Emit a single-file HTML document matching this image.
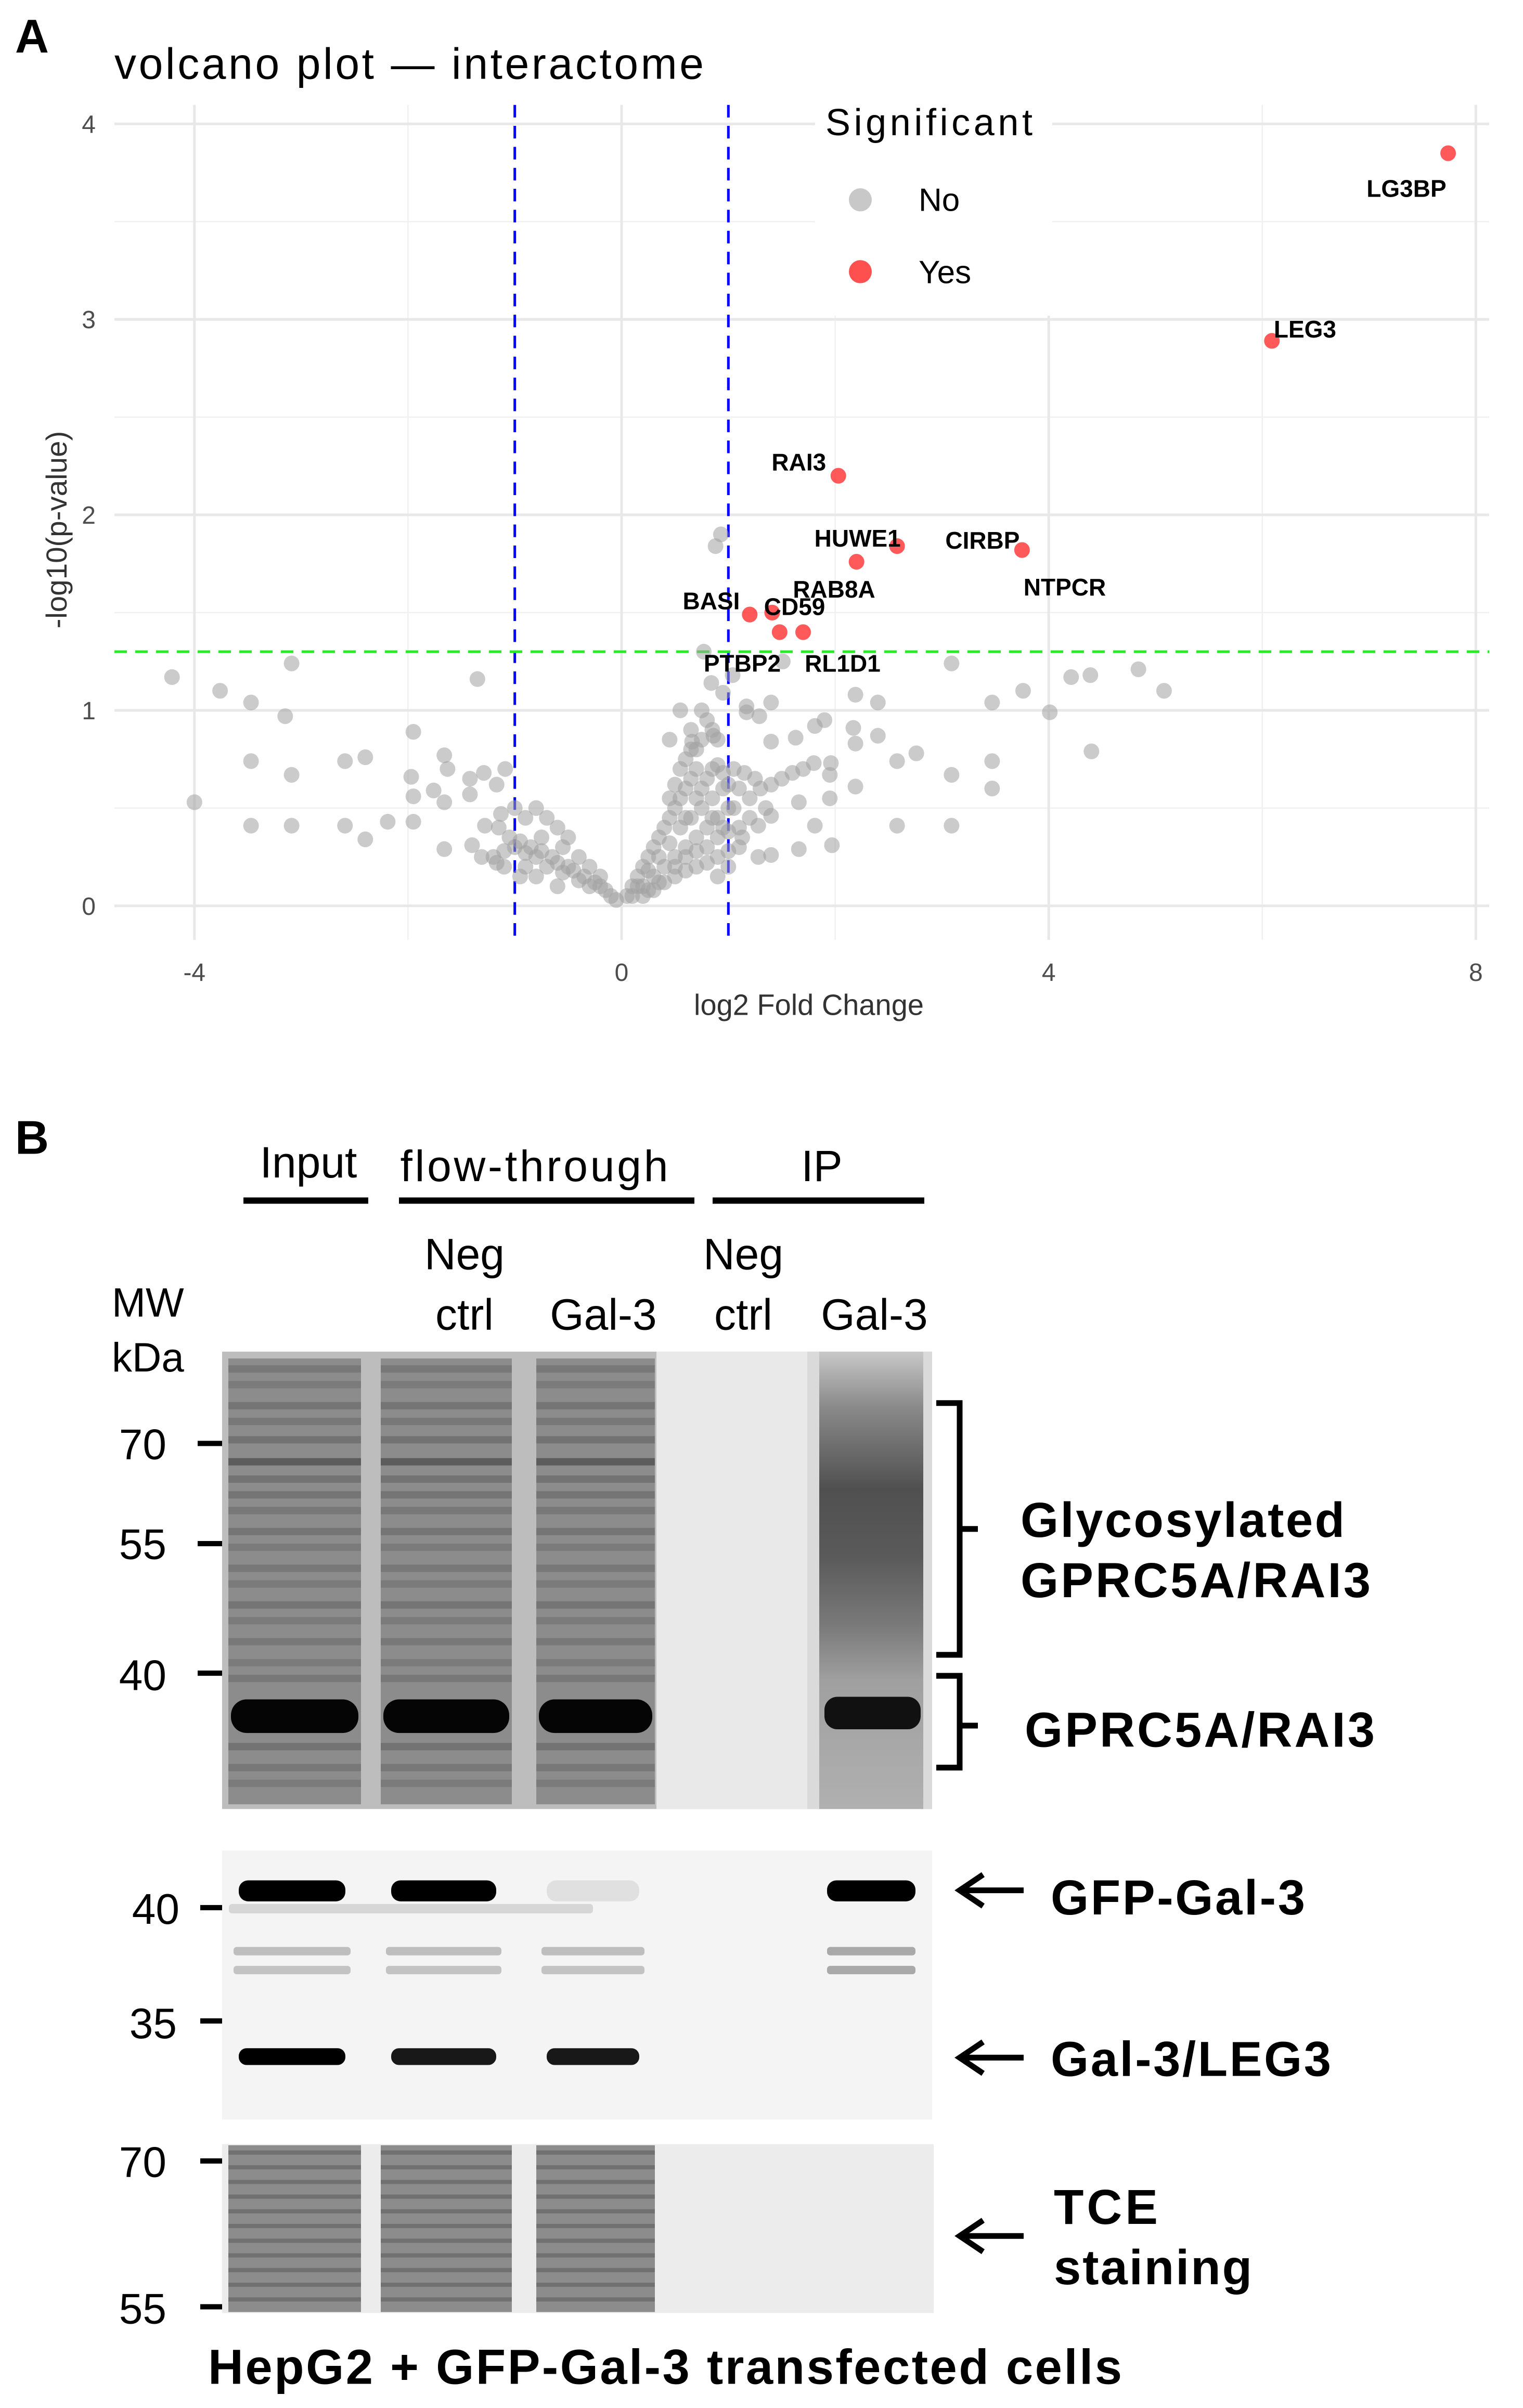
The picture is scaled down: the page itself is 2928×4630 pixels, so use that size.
<!DOCTYPE html>
<html><head><meta charset="utf-8">
<style>
html,body{margin:0;padding:0;background:#fff;}
svg{display:block;}
text{font-family:"Liberation Sans",sans-serif;}
</style></head>
<body>
<svg id="fig" width="2928" height="4630" viewBox="0 0 2928 4630" xmlns="http://www.w3.org/2000/svg">
<defs>
<linearGradient id="smear" x1="0" y1="0" x2="0" y2="1">
<stop offset="0" stop-color="#c8c8c8"/>
<stop offset="0.12" stop-color="#8a8a8a"/>
<stop offset="0.3" stop-color="#505050"/>
<stop offset="0.45" stop-color="#5a5a5a"/>
<stop offset="0.6" stop-color="#7a7a7a"/>
<stop offset="0.72" stop-color="#a0a0a0"/>
<stop offset="1" stop-color="#b0b0b0"/>
</linearGradient>
</defs>
<g transform="scale(1,1.0085)">
<g id="panelA">
<text x="29" y="100" font-size="90" font-weight="bold">A</text>
<text x="220" y="150" font-size="84" textLength="1133" fill="#000">volcano plot — interactome</text>
<g id="grid"></g>
<rect x="1567" y="190" width="456" height="412" fill="#fff"/>
<g id="refs"></g>
<g id="pts"></g>
<g id="lbls"></g>
<g id="ticks"></g>
<text x="1555" y="1935" font-size="56" fill="#333" text-anchor="middle">log2 Fold Change</text>
<text transform="translate(128,1010) rotate(-90)" font-size="56" fill="#333" text-anchor="middle">-log10(p-value)</text>
<g>
<text x="1587" y="258" font-size="72" textLength="398">Significant</text>
<circle cx="1654" cy="381" r="22" fill="#c8c8c8"/>
<text x="1766" y="402" font-size="62">No</text>
<circle cx="1654" cy="518" r="22" fill="#ff5050"/>
<text x="1766" y="540" font-size="62">Yes</text>
</g>
</g>

<g id="panelB">
<text x="29" y="2200" font-size="90" font-weight="bold">B</text>
<text x="593" y="2245" font-size="84" text-anchor="middle">Input</text>
<text x="1027" y="2252" font-size="84" textLength="515" text-anchor="middle">flow-through</text>
<text x="1580" y="2252" font-size="84" text-anchor="middle">IP</text>
<rect x="468" y="2283" width="240" height="12" fill="#000"/>
<rect x="767" y="2283" width="568" height="12" fill="#000"/>
<rect x="1370" y="2283" width="407" height="12" fill="#000"/>
<g font-size="84" text-anchor="middle">
<text x="893" y="2420">Neg</text>
<text x="893" y="2535">ctrl</text>
<text x="1160" y="2535">Gal-3</text>
<text x="1429" y="2420">Neg</text>
<text x="1429" y="2535">ctrl</text>
<text x="1681" y="2535">Gal-3</text>
</g>
<text x="215" y="2510" font-size="78">MW</text>
<text x="215" y="2615" font-size="78">kDa</text>

<g>
<rect x="427" y="2577" width="1365" height="872" fill="#bdbdbd"/>
<rect x="1262" y="2577" width="290" height="872" fill="#e9e9e9"/>
<rect x="1552" y="2577" width="240" height="872" fill="#dadada"/>
<rect x="1575" y="2577" width="200" height="872" fill="url(#smear)"/>
<g id="b1lanes"></g>
<rect x="1585" y="3235" width="185" height="62" rx="25" fill="#111"/>
</g>
<g>
<rect x="427" y="3528" width="1365" height="513" fill="#f4f4f4"/>
<g id="b2lanes"></g>
</g>
<g>
<rect x="427" y="4088" width="1368" height="322" fill="#ececec"/>
<g id="b3lanes"></g>
</g>

<g font-size="82" text-anchor="end">
<text x="320" y="2782">70</text><rect x="380" y="2747" width="47" height="10"/>
<text x="320" y="2972">55</text><rect x="380" y="2938" width="47" height="10"/>
<text x="320" y="3222">40</text><rect x="380" y="3185" width="47" height="10"/>
<text x="345" y="3668">40</text><rect x="385" y="3632" width="42" height="10"/>
<text x="340" y="3886">35</text><rect x="385" y="3848" width="42" height="10"/>
<text x="320" y="4150">70</text><rect x="385" y="4115" width="42" height="10"/>
<text x="320" y="4430">55</text><rect x="385" y="4393" width="42" height="10"/>
</g>

<path d="M1800 2675 H1845 V3155 H1800 M1845 2915 H1880" fill="none" stroke="#000" stroke-width="11"/>
<path d="M1800 3195 H1845 V3370 H1800 M1845 3290 H1880" fill="none" stroke="#000" stroke-width="11"/>
<g font-size="94" font-weight="bold">
<text x="1962" y="2930" textLength="623">Glycosylated</text>
<text x="1962" y="3045" textLength="673">GPRC5A/RAI3</text>
<text x="1970" y="3330" textLength="673">GPRC5A/RAI3</text>
<text x="2020" y="3650" textLength="489">GFP-Gal-3</text>
<text x="2020" y="3958" textLength="539">Gal-3/LEG3</text>
<text x="2026" y="4240" textLength="200">TCE</text>
<text x="2026" y="4355" textLength="381">staining</text>
<text x="400" y="4545" textLength="1757">HepG2 + GFP-Gal-3 transfected cells</text>
</g>
<g fill="none" stroke="#000" stroke-width="11">
<path d="M1845 3604 H1968 M1890 3574 L1845 3604 L1890 3634"/>
<path d="M1845 3923 H1968 M1890 3893 L1845 3923 L1890 3953"/>
<path d="M1845 4263 H1968 M1890 4233 L1845 4263 L1890 4293"/>
</g>
</g>
</g>
</svg>
<script>
const NS="http://www.w3.org/2000/svg";
// ---- chart data ----
const xTicks=[-4,0,4,8];
const xMinor=[-2,2,6];
const yTicks=[0,1,2,3,4];
const yMinor=[0.5,1.5,2.5,3.5];
const sigNames=["LG3BP","LEG3","RAI3","HUWE1","RAB8A","NTPCR","BASI","CD59","PTBP2","RL1D1"];
const sigFC=[7.74,6.09,2.03,2.58,2.2,3.75,1.2,1.41,1.48,1.7];
const sigP=[3.85,2.89,2.2,1.84,1.76,1.82,1.49,1.5,1.4,1.4];
const labelNames=["LG3BP","LEG3","RAI3","HUWE1","RAB8A","CIRBP","NTPCR","BASI","CD59","PTBP2","RL1D1"];
const labelFC=[7.35,6.4,1.66,2.21,1.99,3.38,4.15,0.84,1.62,1.13,2.07];
const labelP=[3.67,2.95,2.27,1.88,1.62,1.87,1.63,1.56,1.53,1.24,1.24];
const nsFC=[-4.21,-3.76,-3.47,-3.15,-3.09,-4.0,-3.47,-3.09,-3.47,-3.09,-2.59,-2.4,-2.59,-2.4,-2.19,-1.95,-1.97,-1.95,-1.95,-1.76,-1.66,-1.63,-1.66,-1.66,-1.42,-1.42,-1.35,-1.29,-1.17,-1.09,-1.28,-1.4,-1.13,-1.31,-1.17,
0.88,0.93,0.77,0.84,1.04,1.51,3.09,2.19,2.4,3.47,3.76,4.01,4.21,4.39,4.84,5.08,4.4,2.17,2.4,2.19,2.58,2.76,3.09,3.47,3.47,3.09,2.58,2.19,1.95,1.95,1.96,1.81,1.97,1.66,1.66,1.4,1.28,1.4,1.28,1.13,1.9,1.81,1.63,1.4,1.29,1.4,1.17,1.17,0.95,0.75,0.55,0.86,0.66,0.45,
-0.05,-0.1,-0.15,-0.2,-0.25,-0.3,-0.35,-0.4,-0.45,-0.5,-0.55,-0.6,-0.65,-0.7,-0.75,-0.8,-0.85,-0.9,-0.95,-1.0,-1.05,-1.1,-1.15,-0.5,-0.6,-0.7,-0.8,-0.9,-1.0,-0.3,-0.4,-0.2,-0.8,-0.6,-0.9,-1.1,-1.2,-0.95,-0.75,-0.55,
0.05,0.1,0.15,0.2,0.25,0.3,0.35,0.4,0.45,0.5,0.55,0.6,0.65,0.7,0.1,0.2,0.3,0.4,0.5,0.6,0.7,0.8,0.9,1.0,0.15,0.25,0.35,0.45,0.55,0.65,0.75,0.85,0.95,0.3,0.4,0.5,0.6,0.7,0.8,0.9,1.0,0.55,0.6,0.65,0.5,0.75,0.8,0.85,0.9,0.95,1.0,1.05,1.1,1.2,1.3,1.4,1.5,1.6,1.7,1.8,1.2,1.35,1.1,1.0,0.9,0.8,0.7,0.6,0.5,0.45,0.7,0.75,0.85,0.9,0.65,0.8,0.7,0.6,0.85,0.95,1.1,1.0,0.9,1.05,1.15,1.25,0.2,0.35,0.25];
const nsP=[1.17,1.1,1.04,0.97,1.24,0.53,0.74,0.67,0.41,0.41,0.74,0.76,0.41,0.34,0.43,0.89,0.66,0.56,0.43,0.59,0.77,0.7,0.53,0.29,0.65,0.57,1.16,0.68,0.62,0.7,0.41,0.31,0.47,0.25,0.22,
1.84,1.9,1.3,1.14,1.18,1.25,1.24,1.08,1.04,1.04,1.1,0.99,1.17,1.18,1.21,1.1,0.79,0.91,0.87,0.83,0.74,0.78,0.67,0.74,0.6,0.41,0.41,0.61,0.55,0.67,0.73,0.41,0.31,0.29,0.53,0.46,0.41,0.26,0.25,0.35,0.95,0.92,0.86,0.84,0.97,1.04,1.02,0.99,1.09,1.0,1.0,0.87,0.84,0.85,
0.03,0.05,0.08,0.1,0.12,0.1,0.15,0.13,0.18,0.2,0.17,0.22,0.25,0.2,0.28,0.25,0.3,0.27,0.33,0.3,0.35,0.28,0.4,0.35,0.4,0.45,0.5,0.45,0.5,0.2,0.25,0.15,0.15,0.1,0.2,0.2,0.25,0.15,0.35,0.3,
0.05,0.1,0.15,0.2,0.25,0.3,0.35,0.4,0.45,0.5,0.55,0.6,0.65,0.7,0.05,0.1,0.15,0.2,0.25,0.3,0.35,0.4,0.45,0.5,0.1,0.18,0.25,0.32,0.4,0.45,0.5,0.55,0.6,0.08,0.12,0.15,0.18,0.2,0.22,0.25,0.28,0.7,0.75,0.8,0.62,0.6,0.65,0.7,0.72,0.68,0.62,0.5,0.6,0.55,0.6,0.62,0.65,0.68,0.7,0.73,0.45,0.5,0.4,0.38,0.35,0.3,0.28,0.25,0.2,0.55,0.8,0.85,0.9,0.85,0.9,0.95,0.55,0.45,0.45,0.4,0.3,0.2,0.15,0.7,0.68,0.65,0.05,0.12,0.08];
// ---- axes ----
const X0=220,X1=2863,Y0=200,Y1=1792;
const sx=v=>1195+v*205.3;
const sy=v=>1727-v*372.7;
const grid=document.getElementById('grid');
function line(par,x1,y1,x2,y2,st,w,dash){const l=document.createElementNS(NS,'line');l.setAttribute('x1',x1);l.setAttribute('y1',y1);l.setAttribute('x2',x2);l.setAttribute('y2',y2);l.setAttribute('stroke',st);l.setAttribute('stroke-width',w);if(dash)l.setAttribute('stroke-dasharray',dash);par.appendChild(l);return l;}
xMinor.forEach(v=>{const l=line(grid,sx(v),Y0,sx(v),Y1,'#f0f0f0',2.5);

});
yMinor.forEach(v=>{const l=line(grid,X0,sy(v),X1,sy(v),'#f0f0f0',2.5);

});
xTicks.forEach(v=>{const l=line(grid,sx(v),Y0,sx(v),Y1,'#e8e8e8',5);

});
yTicks.forEach(v=>{const l=line(grid,X0,sy(v),X1,sy(v),'#e8e8e8',5);

});
const ticks=document.getElementById('ticks');
function txt(par,x,y,s,sz,fill,anchor,bold){const t=document.createElementNS(NS,'text');t.setAttribute('x',x);t.setAttribute('y',y);t.setAttribute('font-size',sz);t.setAttribute('fill',fill);t.setAttribute('text-anchor',anchor);if(bold)t.setAttribute('font-weight','bold');t.textContent=s;par.appendChild(t);return t;}
xTicks.forEach(v=>{const t=txt(ticks,sx(v),1870,String(v),48,'#4d4d4d','middle');

});
yTicks.forEach(v=>{const t=txt(ticks,184,sy(v)+17,String(v),48,'#4d4d4d','end');

});
const pts=document.getElementById('pts');
for(let i=0;i<nsFC.length;i++){const c=document.createElementNS(NS,'circle');c.setAttribute('cx',sx(nsFC[i]));c.setAttribute('cy',sy(nsP[i]));c.setAttribute('r',15);c.setAttribute('fill','#a0a0a0');c.setAttribute('fill-opacity','0.55');


pts.appendChild(c);}
const refs=document.getElementById('refs');
[-1,1].forEach(v=>{const l=line(refs,sx(v),Y0,sx(v),Y1,'#0000ff',5,'24 16');

});
{const l=line(refs,X0,sy(1.3),X1,sy(1.3),'#22ee22',5,'24 16');

}
for(let i=0;i<sigFC.length;i++){const c=document.createElementNS(NS,'circle');c.setAttribute('cx',sx(sigFC[i]));c.setAttribute('cy',sy(sigP[i]));c.setAttribute('r',15);c.setAttribute('fill','#ff3030');c.setAttribute('fill-opacity','0.8');


pts.appendChild(c);}
const lbls=document.getElementById('lbls');
labelNames.forEach((n,i)=>{const t=txt(lbls,sx(labelFC[i]),sy(labelP[i])+16,n,46,'#000','middle',true);

});
// ---- blots (decorative) ----
function rect(par,x,y,w,h,fill,rx,op){const r=document.createElementNS(NS,'rect');r.setAttribute('x',x);r.setAttribute('y',y);r.setAttribute('width',w);r.setAttribute('height',h);r.setAttribute('fill',fill);if(rx)r.setAttribute('rx',rx);if(op!==undefined)r.setAttribute('fill-opacity',op);par.appendChild(r);return r;}
const lanes=[[439,255],[732,252],[1031,228]];
const b1=document.getElementById('b1lanes');
const stripes=[[2610,0.35],[2640,0.3],[2680,0.4],[2710,0.35],[2745,0.45],[2787,0.85],[2820,0.45],[2850,0.4],[2880,0.35],[2920,0.4],[2950,0.3],[2990,0.35],[3020,0.3],[3060,0.4],[3090,0.3],[3130,0.35],[3170,0.3],[3200,0.35],[3330,0.45],[3370,0.35],[3400,0.3]];
lanes.forEach(([x,w])=>{rect(b1,x,2590,w,850,'#8c8c8c');
stripes.forEach(([y,o])=>rect(b1,x,y-7,w,14,'#303030',0,o*0.6));
rect(b1,x+5,3240,w-10,64,'#050505',30);});
const b2=document.getElementById('b2lanes');
[[0,1],[1,1],[2,0.08]].forEach(([i,o])=>{const [x,w]=lanes[i];rect(b2,x+20,3585,w-50,40,'#000',18,o);
rect(b2,x+10,3712,w-30,16,'#888',6,0.5);rect(b2,x+10,3748,w-30,16,'#888',6,0.45);});
rect(b2,1590,3585,170,40,'#000',18);rect(b2,1590,3712,170,16,'#777',6,0.6);rect(b2,1590,3748,170,16,'#777',6,0.6);
[[0,1],[1,0.9],[2,0.9]].forEach(([i,o])=>{const [x,w]=lanes[i];rect(b2,x+20,3905,w-50,32,'#000',15,o);});
rect(b2,440,3630,700,18,'#aaa',6,0.4);
const b3=document.getElementById('b3lanes');
lanes.forEach(([x,w])=>{rect(b3,x,4090,w,318,'#8c8c8c');
for(let y=4100;y<4405;y+=28)rect(b3,x,y,w,8,'#404040',0,0.35);});
</script>
</body></html>
